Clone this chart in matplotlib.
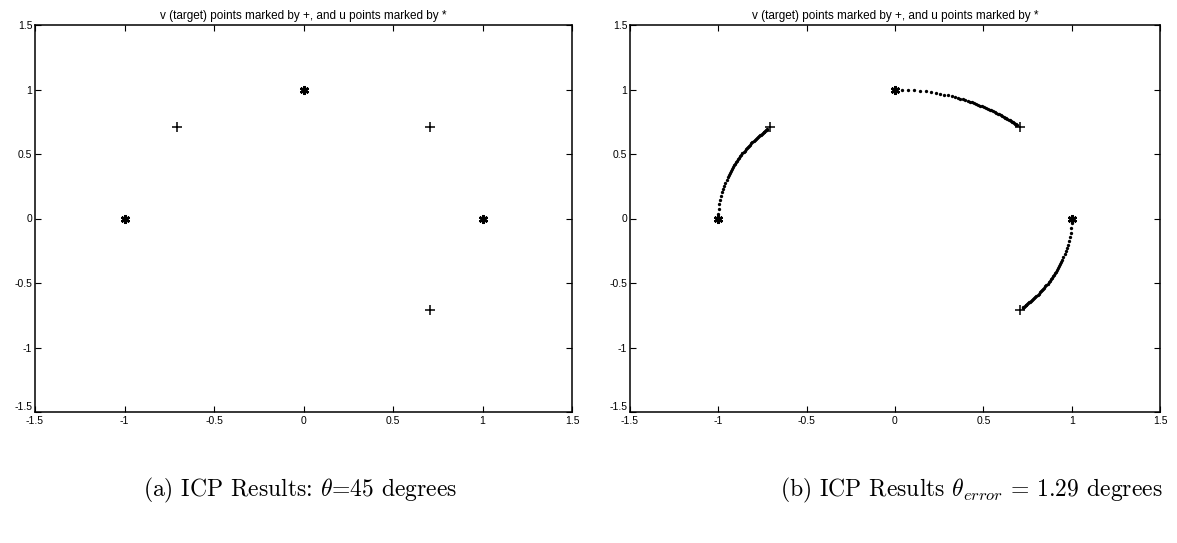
import numpy as np
import matplotlib
matplotlib.use('Agg')
import matplotlib.pyplot as plt

plt.rcParams['font.family'] = ['Liberation Sans', 'DejaVu Sans']
plt.rcParams['axes.unicode_minus'] = False
plt.rcParams['mathtext.fontset'] = 'cm'

# u points (source) and v points (target, u rotated by 45 deg)
u_x = [-1.0, 0.0, 1.0]
u_y = [0.0, 1.0, 0.0]
v_x = [-0.7071, 0.7071, 0.7071]
v_y = [0.7071, 0.7071, -0.7071]

# rotation (degrees) of u at each ICP iteration
iter_angle = [0, 2.2, 4.3, 6.3, 8.2, 10.0, 11.7, 13.3, 14.8, 16.2, 17.5,
              18.7, 19.8, 20.8, 21.75, 22.65, 23.5, 24.3, 25.1, 25.9, 26.65,
              27.4, 28.15, 28.9, 29.6, 30.3, 31.0, 31.7, 32.4, 33.05, 33.7,
              34.35, 35.0, 35.6, 36.2, 36.8, 37.4, 37.95, 38.5, 39.05, 39.55,
              40.05, 40.55, 41.0, 41.45, 41.9, 42.3, 42.7, 43.05, 43.4, 43.71]

title = 'v (target) points marked by +, and u points marked by *'
ticks = [-1.5, -1, -0.5, 0, 0.5, 1, 1.5]
tick_labels = ['-1.5', '-1', '-0.5', '0', '0.5', '1', '1.5']

asterisk = (6, 2, 0)

fig = plt.figure(figsize=(11.77, 5.43), dpi=100)
axA = fig.add_axes([35/1177, 131/543, 537/1177, 387/543])
axB = fig.add_axes([630/1177, 131/543, 530/1177, 387/543])


def style(ax):
    ax.set_xlim(-1.5, 1.5)
    ax.set_ylim(-1.5, 1.5)
    ax.set_xticks(ticks)
    ax.set_xticklabels(tick_labels)
    ax.set_yticks(ticks)
    ax.set_yticklabels(tick_labels)
    ax.tick_params(direction='in', top=True, right=True, length=4,
                   width=0.8, labelsize=7.5)
    ax.tick_params(axis='x', pad=3)
    ax.tick_params(axis='y', pad=2)
    # bottom y label sits just above the corner, as in the original
    ax.get_yticklabels()[0].set_verticalalignment('bottom')
    for s in ax.spines.values():
        s.set_linewidth(1.1)
    ax.set_title(title, fontsize=8.5, pad=4)


for ax in [axA, axB]:
    ax.plot(v_x, v_y, '+', color='k', markersize=7, markeredgewidth=1.1)
    ax.plot(u_x, u_y, marker=asterisk, linestyle='none', color='k',
            markersize=6.5, markeredgewidth=1.8)
    style(ax)

# trajectories of the u points in panel (b)
th = -np.radians(np.array(iter_angle))
for x0, y0 in zip(u_x, u_y):
    tx = x0*np.cos(th) - y0*np.sin(th)
    ty = x0*np.sin(th) + y0*np.cos(th)
    axB.plot(tx, ty, 'o', color='k', markersize=2.4, markeredgewidth=0)

fig.text(300/1177, 53/543, r'(a) ICP Results: $\theta$=45 degrees',
         family='cmr10', fontsize=17, ha='center', va='center')
fig.text(971/1177, 53/543, r'(b) ICP Results $\theta_{error}$ = 1.29 degrees',
         family='cmr10', fontsize=17, ha='center', va='center')

fig.savefig('out.png', dpi=100)
